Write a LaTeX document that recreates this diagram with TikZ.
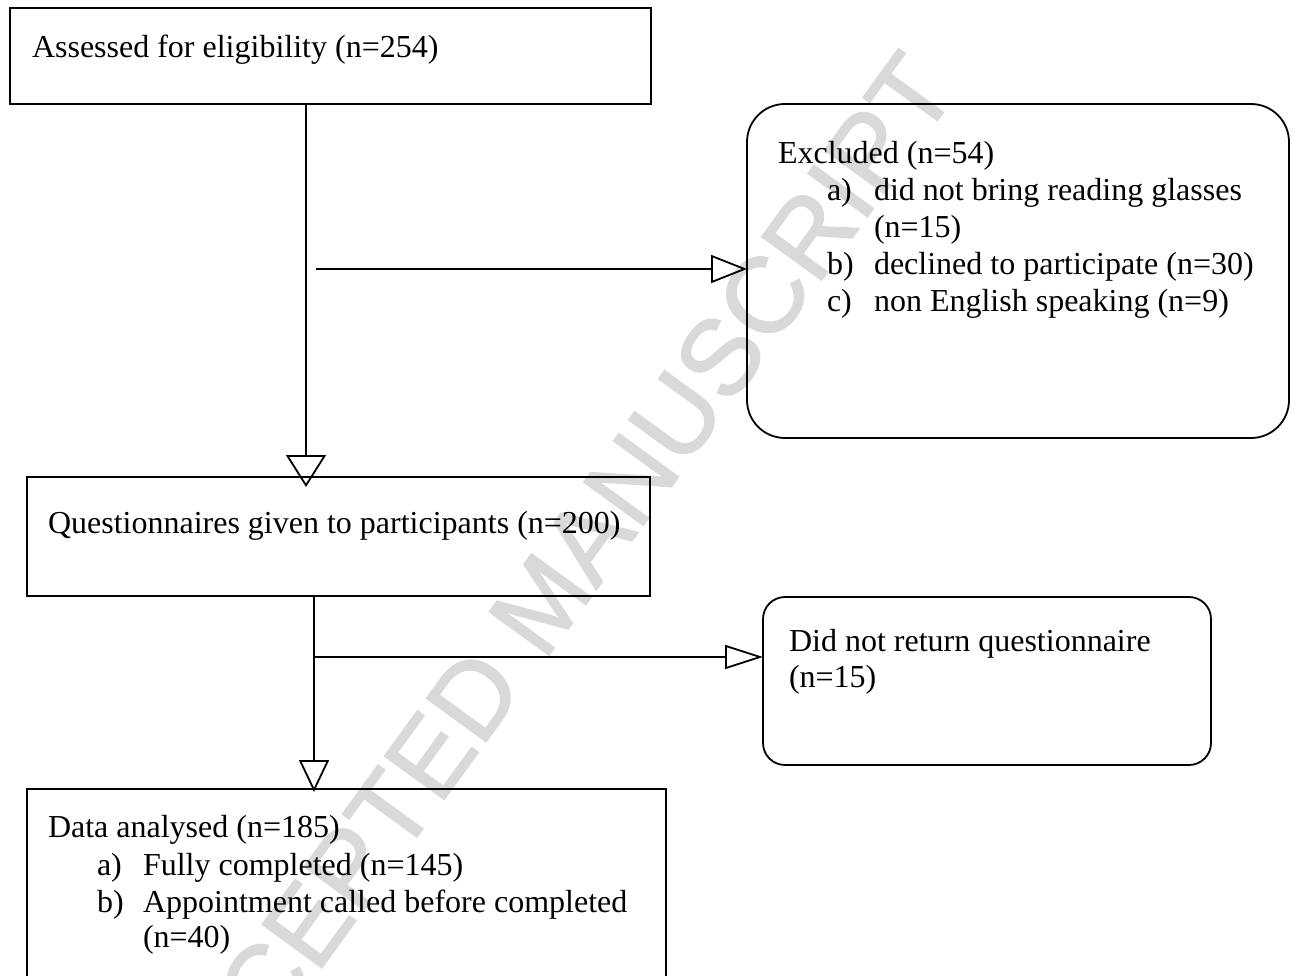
\documentclass[tikz,border=0pt]{standalone}
\usepackage{fontspec}
\setmainfont{Liberation Serif}
\newfontfamily\wmfont[FakeBold=1.5]{Liberation Sans}
\usetikzlibrary{arrows.meta}
\begin{document}
\begin{tikzpicture}[x=1pt,y=-1pt,
  box/.style={draw, line width=1.8pt, rectangle, inner sep=0pt, outer sep=0pt, anchor=north west},
  rbox/.style={box, rounded corners=#1},
  txt/.style={anchor=base west, inner sep=0pt, outer sep=0pt, font=\fontsize{32}{37}\selectfont},
  conn/.style={line width=1.8pt},
  downbig/.style={conn, -{Triangle[open, length=32pt, width=40pt]}},
  downsmall/.style={conn, -{Triangle[open, length=32pt, width=30pt]}},
  rightbig/.style={conn, -{Triangle[open, length=36pt, width=28pt]}},
  rightsmall/.style={conn, -{Triangle[open, length=38pt, width=24pt]}},
  wm/.style={inner sep=0pt, font=\wmfont\fontsize{107}{107}\selectfont, text=black!15, rotate=54}
]
\useasboundingbox (0,0) rectangle (1297,976);
\clip (0,0) rectangle (1297,976);

% watermark
\node[wm] (wm) at (542,602) {ACCEPTED MANUSCRIPT};

% boxes
\node[box, minimum width=641pt, minimum height=96pt] (elig) at (10,8) {};
\node[box, minimum width=623pt, minimum height=119pt] (quest) at (27,477) {};
\node[box, minimum width=639pt, minimum height=260pt] (data) at (27,789) {};
\node[rbox=38pt, minimum width=542pt, minimum height=334pt] (excl) at (747,104) {};
\node[rbox=22pt, minimum width=448pt, minimum height=168pt] (noret) at (763,597) {};

% texts
\node[txt] (elig-t) at (32,58) {Assessed for eligibility (n=254)};
\node[txt] (quest-t) at (48,533) {Questionnaires given to participants (n=200)};

\node[txt] (excl-t) at (778,164) {Excluded (n=54)};
\node[txt] (excl-la) at (827,201) {a)};
\node[txt] (excl-a) at (874,201) {did not bring reading glasses};
\node[txt] (excl-a2) at (874,238) {(n=15)};
\node[txt] (excl-lb) at (827,274) {b)};
\node[txt] (excl-b) at (874,274) {declined to participate (n=30)};
\node[txt] (excl-lc) at (827,311) {c)};
\node[txt] (excl-c) at (874,311) {non English speaking (n=9)};

\node[txt] (noret-t) at (789,651) {Did not return questionnaire};
\node[txt] (noret-t2) at (789,687) {(n=15)};

\node[txt] (data-t) at (48,837) {Data analysed (n=185)};
\node[txt] (data-la) at (97,875) {a)};
\node[txt] (data-a) at (143,875) {Fully completed (n=145)};
\node[txt] (data-lb) at (97,912) {b)};
\node[txt] (data-b) at (143,912) {Appointment called before completed};
\node[txt] (data-b2) at (143,947) {(n=40)};

% connectors
\coordinate (v1) at (306,0);
\coordinate (h1) at (316,269);
\coordinate (v2) at (314,0);
\coordinate (h2) at (314,657);

\draw[downbig, shorten >=-10pt] (v1 |- elig.south) -- (v1 |- quest.north);
\draw[rightbig] (h1) -- (h1 -| excl.west);
\draw[downsmall, shorten >=-3pt] (v2 |- quest.south) -- (v2 |- data.north);
\draw[rightsmall] (h2) -- (h2 -| noret.west);
\end{tikzpicture}
\end{document}
